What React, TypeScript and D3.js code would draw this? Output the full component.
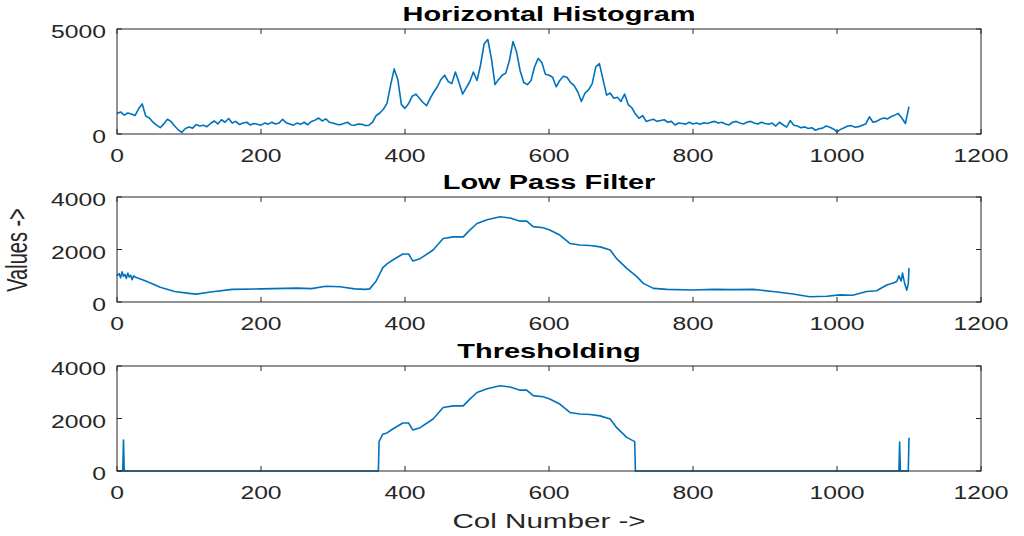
import * as d3 from 'd3'

// x positions for the raw histogram are every 5 columns
const HIST_STEP = 5
const histValues = [
  980, 1050, 900, 1000, 950, 880, 1200, 1430, 850, 760,
  560, 420, 300, 480, 700, 600, 380, 200, 80, 260,
  330, 280, 450, 380, 420, 350, 500, 620, 480, 680,
  560, 740, 520, 600, 450, 520, 560, 430, 500, 460,
  420, 520, 470, 560, 480, 520, 700, 540, 480, 420,
  520, 460, 560, 440, 600, 660, 760, 620, 720, 560,
  520, 460, 440, 500, 560, 430, 420, 480, 460, 400,
  420, 560, 880, 1000, 1180, 1460, 2330, 3100, 2600, 1400,
  1220, 1450, 1800, 1900, 1700, 1500, 1350, 1700, 2000, 2250,
  2600, 2800, 2500, 2400, 2950, 2450, 1900, 2200, 2500, 2950,
  2550, 3300, 4300, 4500, 3600, 2350, 2600, 2800, 2900, 3500,
  4400, 3900, 3000, 2450, 2350, 2550, 3200, 3600, 3400, 2850,
  2800, 2700, 2250, 2550, 2750, 2700, 2450, 2300, 2000, 1550,
  1950, 2100, 2400, 3200, 3350, 2600, 1850, 1950, 1700, 1750,
  1550, 1900, 1400, 1250, 950, 750, 880, 600, 650, 700,
  600, 640, 680, 560, 600, 430, 520, 500, 470, 560,
  480, 520, 460, 540, 500, 560, 600, 520, 560, 480,
  430, 560, 600, 520, 480, 560, 600, 520, 480, 560,
  500, 460, 520, 380, 560, 440, 330, 640, 420, 380,
  300, 340, 260, 300, 180, 250, 280, 380, 320, 240,
  100, 220, 300, 380, 400, 320, 350, 420, 480, 820,
  560, 600, 700, 760, 720, 820, 900, 980, 760, 500,
  1300,
]

const lowCols = [
  0, 3, 5, 7, 9, 11, 13, 15, 17, 19, 21, 23, 25, 40, 60, 80, 100, 110, 130, 160,
  200, 250, 270, 290, 310, 330, 345, 351, 360, 369, 375, 383, 397, 405, 411, 421,
  439, 453, 467, 481, 490, 500, 514, 532, 546, 560, 569, 578, 592, 601, 615, 629,
  643, 657, 671, 685, 694, 708, 722, 731, 745, 764, 800, 828, 856, 884, 911, 939,
  962, 986, 1004, 1022, 1041, 1055, 1069, 1078, 1083, 1086, 1089, 1091, 1094, 1097,
  1099, 1100,
]
const lowValues = [
  1000, 1080, 920, 1150, 980, 1050, 900, 1100, 950, 1020, 850, 1000, 950, 800, 560,
  400, 330, 300, 380, 480, 500, 530, 510, 600, 580, 500, 480, 500, 800, 1300, 1450,
  1600, 1830, 1830, 1560, 1650, 1980, 2420, 2480, 2480, 2740, 2990, 3130, 3250, 3200,
  3080, 3080, 2870, 2830, 2740, 2550, 2230, 2170, 2150, 2100, 1980, 1650, 1280, 965,
  710, 520, 480, 457, 480, 470, 480, 400, 305, 200, 220, 270, 260, 400, 430, 650,
  720, 780, 1000, 800, 1100, 700, 450, 700, 1300,
]

const threshCols = [
  0, 8, 9, 10, 363, 364, 369, 375, 383, 397, 405, 411, 421, 439, 453, 467, 481, 490,
  500, 514, 532, 546, 560, 569, 578, 592, 601, 615, 629, 643, 657, 671, 685, 694,
  708, 719, 720, 1086, 1087, 1088, 1099, 1100,
]
const threshValues = [
  0, 0, 1180, 0, 0, 1120, 1400, 1450, 1600, 1830, 1830, 1560, 1650, 1980, 2420, 2480,
  2480, 2740, 2990, 3130, 3250, 3200, 3080, 3080, 2870, 2830, 2740, 2550, 2230, 2170,
  2150, 2100, 1980, 1650, 1280, 1120, 0, 0, 1100, 0, 0, 1270,
]

const xTicks = [0, 200, 400, 600, 800, 1000, 1200]
const titles = ['Horizontal Histogram', 'Low Pass Filter', 'Thresholding']
const yDomains: [number, number][] = [[0, 5000], [0, 4000], [0, 4000]]
const yTickSets = [[0, 5000], [0, 2000, 4000], [0, 2000, 4000]]

const W = 1024
const H = 536
const LEFT = 117
const RIGHT = 981
const panels = [
  { top: 29, bottom: 134 },
  { top: 197, bottom: 302 },
  { top: 366, bottom: 471 },
]

const INK = '#262626'
const LINE = '#0072BD'
const FONT = '"Liberation Sans", Arial, Helvetica, sans-serif'

export default function App() {
  const x = d3.scaleLinear().domain([0, 1200]).range([LEFT, RIGHT])

  const series: [number, number][][] = [
    histValues.map((v, i) => [i * HIST_STEP, v]),
    lowValues.map((v, i) => [lowCols[i], v]),
    threshValues.map((v, i) => [threshCols[i], v]),
  ]

  return (
    <svg width={W} height={H} style={{ position: 'absolute', left: 0, top: 0, background: '#fff' }}>
      {panels.map((p, k) => {
        const y = d3.scaleLinear().domain(yDomains[k]).range([p.bottom, p.top])
        const line = d3.line<[number, number]>()
          .x(d => x(d[0]))
          .y(d => y(d[1]))
        return (
          <g key={k}>
            <path d={line(series[k]) || ''} fill="none" stroke={LINE} strokeWidth={1.6} strokeLinejoin="round" />
            <rect x={LEFT} y={p.top} width={RIGHT - LEFT} height={p.bottom - p.top}
              fill="none" stroke={INK} strokeWidth={1} />
            {xTicks.map(t => (
              <g key={'x' + t}>
                <line x1={x(t)} x2={x(t)} y1={p.bottom} y2={p.bottom - 5} stroke={INK} />
                <line x1={x(t)} x2={x(t)} y1={p.top} y2={p.top + 5} stroke={INK} />
                <text transform={`translate(${x(t)},${p.bottom + 28}) scale(1.3,1)`}
                  textAnchor="middle" fontFamily={FONT} fontSize={19} fill={INK}>{t}</text>
              </g>
            ))}
            {yTickSets[k].map(t => (
              <g key={'y' + t}>
                <line x1={LEFT} x2={LEFT + 5} y1={y(t)} y2={y(t)} stroke={INK} />
                <line x1={RIGHT} x2={RIGHT - 5} y1={y(t)} y2={y(t)} stroke={INK} />
                <text transform={`translate(106,${y(t) + 9}) scale(1.3,1)`}
                  textAnchor="end" fontFamily={FONT} fontSize={19} fill={INK}>{t}</text>
              </g>
            ))}
            <text transform={`translate(${(LEFT + RIGHT) / 2},${p.top - 8}) scale(1.45,1)`}
              textAnchor="middle" fontFamily={FONT} fontSize={20} fontWeight="bold" fill="#000">
              {titles[k]}
            </text>
          </g>
        )
      })}
      <text transform={`translate(${(LEFT + RIGHT) / 2},528) scale(1.48,1)`}
        textAnchor="middle" fontFamily={FONT} fontSize={20} fill={INK}>Col Number -&gt;</text>
      <text transform="translate(27,250) scale(1.45,1) rotate(-90)"
        textAnchor="middle" fontFamily={FONT} fontSize={20} fill={INK}>Values -&gt;</text>
    </svg>
  )
}
